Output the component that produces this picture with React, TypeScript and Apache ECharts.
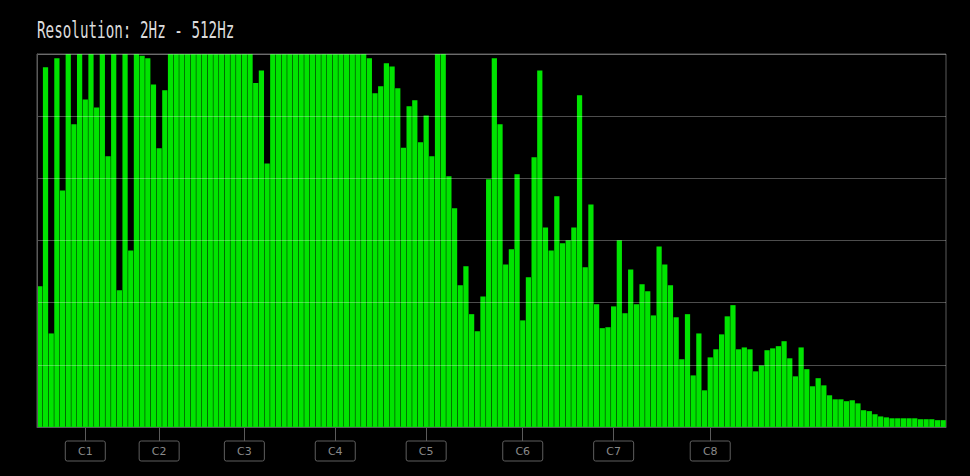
import React, { useEffect, useRef } from "react";
import * as echarts from "echarts";

// ---- data ----
const titleText = "Resolution: 2Hz - 512Hz";

// 160 spectrum bins (value 120 = top of the plot, clipped)
const binValues: number[] = [
  45.3, 115.7, 30.1, 118.6, 76.1, 120, 97.4, 120, 105.4, 120,
  102.8, 120, 87.1, 120, 44.0, 120, 56.8, 120, 119.4, 118.6,
  110.2, 89.7, 108.3, 120, 120, 120, 120, 120, 120, 120,
  120, 120, 120, 120, 120, 120, 120, 120, 110.7, 114.7,
  84.8, 120, 120, 120, 120, 120, 120, 120, 120, 120,
  120, 120, 120, 120, 120, 120, 120, 120, 118.6, 107.4,
  109.6, 117.0, 116.0, 109.0, 89.8, 103.2, 105.1, 91.6, 100.2, 87.1,
  120, 120, 80.7, 70.4, 45.6, 51.7, 36.3, 30.8, 42.0, 79.7,
  118.6, 97.4, 52.3, 57.2, 81.3, 34.3, 48.2, 86.8, 114.7, 64.2,
  56.8, 74.2, 59.1, 60.1, 64.2, 106.7, 51.4, 71.6, 39.5, 31.8,
  32.1, 38.8, 60.1, 36.6, 50.7, 39.5, 45.9, 43.7, 35.9, 58.1,
  52.3, 45.6, 35.3, 21.8, 36.3, 16.6, 30.1, 11.8, 22.4, 25.0,
  29.8, 35.6, 39.2, 25.0, 25.6, 25.0, 17.9, 19.8, 24.7, 25.3,
  26.0, 27.6, 22.1, 16.3, 25.6, 18.6, 13.1, 15.7, 13.4, 10.2,
  8.9, 8.9, 8.3, 8.6, 7.6, 5.4, 5.1, 4.1, 3.4, 3.1,
  2.8, 2.8, 2.8, 2.8, 2.8, 2.5, 2.5, 2.5, 2.2, 2.2,
];

const binNames: string[] = binValues.map((_, i) => String(i));

// note markers on the x axis: bin index and label
const noteBins: number[] = [8, 21, 36, 52, 68, 85, 101, 118];
const noteLabels: string[] = ["C1", "C2", "C3", "C4", "C5", "C6", "C7", "C8"];

const yMin = 0;
const yMax = 120;
const yInterval = 20;

export default function App() {
  const ref = useRef<HTMLDivElement>(null);

  useEffect(() => {
    if (!ref.current) return;
    const chart = echarts.init(ref.current, undefined, { renderer: "svg" });
    const noteMap: Record<number, string> = {};
    noteBins.forEach((b, i) => (noteMap[b] = noteLabels[i]));

    chart.setOption({
      animation: false,
      backgroundColor: "#000000",
      graphic: [
        {
          type: "text",
          x: 37,
          y: 30,
          scaleX: 0.62,
          style: {
            text: titleText,
            fontFamily: "DejaVu Sans Mono",
            fontSize: 23,
            fill: "#dcdcdc",
            verticalAlign: "middle",
            align: "left",
          },
        },
      ],
      grid: {
        left: 37,
        right: 24,
        top: 54,
        bottom: 49,
        show: true,
        borderColor: "#5a5a5a",
        borderWidth: 1,
        backgroundColor: "transparent",
      },
      xAxis: {
        type: "category",
        data: binNames,
        z: 5,
        boundaryGap: true,
        axisLine: { show: true, lineStyle: { color: "#5a5a5a", width: 1 } },
        axisTick: {
          show: true,
          alignWithLabel: true,
          length: 14,
          interval: (index: number) => noteMap[index] !== undefined,
          lineStyle: { color: "#5a5a5a", width: 1 },
        },
        axisLabel: {
          show: true,
          interval: (index: number) => noteMap[index] !== undefined,
          formatter: (_v: string, index: number) => noteMap[index] ?? "",
          margin: 14,
          color: "#8a8a8a",
          fontFamily: "DejaVu Sans",
          fontSize: 11,
          borderColor: "#5e5e5e",
          borderWidth: 1,
          borderRadius: 2,
          width: 40,
          height: 20,
          lineHeight: 20,
          align: "center",
          verticalAlign: "top",
        },
        splitLine: { show: false },
      },
      yAxis: {
        type: "value",
        min: yMin,
        max: yMax,
        interval: yInterval,
        z: 5,
        axisLine: { show: true, lineStyle: { color: "#5a5a5a", width: 1 } },
        axisTick: { show: false },
        axisLabel: { show: false },
        splitLine: {
          show: true,
          lineStyle: { color: "rgba(255,255,255,0.3)", width: 1 },
        },
      },
      series: [
        {
          type: "bar",
          data: binValues,
          barCategoryGap: "8%",
          clip: true,
          itemStyle: { color: "#00e400" },
          silent: true,
        },
      ],
    });
    return () => chart.dispose();
  }, []);

  return (
    <div
      ref={ref}
      style={{ position: "fixed", left: 0, top: 0, width: 970, height: 476 }}
    />
  );
}
